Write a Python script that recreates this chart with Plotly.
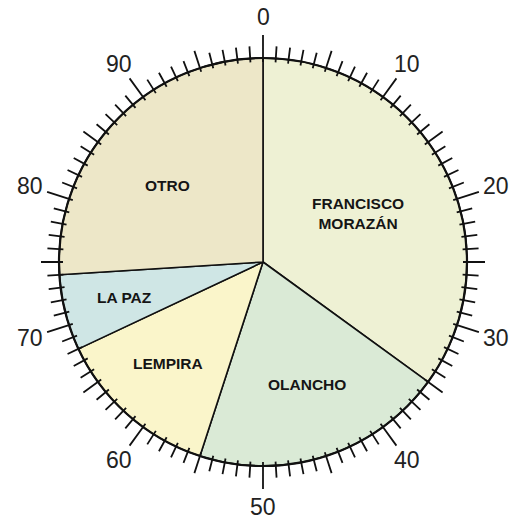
import math
import plotly.graph_objects as go

# ---- data ----
departamentos = ["FRANCISCO<br>MORAZÁN", "OLANCHO", "LEMPIRA", "LA PAZ", "OTRO"]
porcentajes = [35, 20, 13, 6, 26]
colores = ["#EEF1D4", "#DAEAD6", "#FAF5CA", "#CFE6E5", "#EDE7C8"]
escala_valores = list(range(0, 100, 10))
escala_textos = [str(v) for v in escala_valores]

# ---- style / layout ----
W, H = 519, 520
CX, CY = 263, 258          # pie centre in px (y measured upward)
R = 204                    # pie radius in px
label_r = [0.52, 0.64, 0.68, 0.70, 0.60]     # label radius as fraction of R
label_da = [0.0, -0.5, 0.5, 0.0, -1.3]       # small angular nudge (in % units)
scale_r = R + 41


def px(x):
    return x / W


def py(y):
    return y / H


def polar(value, r):
    th = math.radians(value / 100.0 * 360.0)
    return CX + r * math.sin(th), CY + r * math.cos(th)


fig = go.Figure()
fig.add_trace(go.Pie(
    labels=[d.replace("<br>", " ") for d in departamentos],
    values=porcentajes,
    sort=False,
    direction="clockwise",
    rotation=0,
    marker=dict(colors=colores, line=dict(color="#111111", width=1.6)),
    textinfo="none",
    hoverinfo="label+value",
    showlegend=False,
    domain=dict(x=[px(CX - R), px(CX + R)], y=[py(CY - R), py(CY + R)]),
))

# slice labels placed on each slice bisector
annotations = []
total = float(sum(porcentajes))
acc = 0.0
for name, v, fr, da in zip(departamentos, porcentajes, label_r, label_da):
    mid = (acc + v / 2.0) / total * 100.0 + da
    acc += v
    x, y = polar(mid, fr * R)
    annotations.append(dict(
        x=px(x), y=py(y), xref="paper", yref="paper", text=name, showarrow=False,
        xanchor="center", yanchor="middle", align="center",
        font=dict(family="Liberation Sans, Arial, sans-serif", size=15.5,
                  color="#151515", weight="bold"),
    ))

# scale labels
for v, t in zip(escala_valores, escala_textos):
    x, y = polar(v, scale_r)
    annotations.append(dict(
        x=px(x), y=py(y), xref="paper", yref="paper", text=t, showarrow=False,
        xanchor="center", yanchor="middle",
        font=dict(family="Liberation Sans, Arial, sans-serif", size=23, color="#222222"),
    ))

# outer circle and tick marks
shapes = [dict(type="circle", xref="paper", yref="paper",
               x0=px(CX - R), x1=px(CX + R), y0=py(CY - R), y1=py(CY + R),
               line=dict(color="#111111", width=2.2), layer="above")]

path = []
for i in range(100):
    if i % 10 == 0:
        outer = R + 23
    elif i % 5 == 0:
        outer = R + 18
    else:
        outer = R + 12
    x0, y0 = polar(i, R - 4)
    x1, y1 = polar(i, outer)
    path.append(f"M{px(x0):.5f},{py(y0):.5f} L{px(x1):.5f},{py(y1):.5f}")
shapes.append(dict(type="path", xref="paper", yref="paper", path=" ".join(path),
                   line=dict(color="#111111", width=1.8), layer="above"))

fig.update_layout(
    width=W, height=H,
    margin=dict(l=0, r=0, t=0, b=0),
    paper_bgcolor="white", plot_bgcolor="white",
    annotations=annotations, shapes=shapes,
    showlegend=False,
)

fig.write_html(
    "out.html",
    config={"displayModeBar": False},
    post_script="document.body.style.margin='0';document.body.style.padding='0';"
                "document.body.style.overflow='hidden';",
)
